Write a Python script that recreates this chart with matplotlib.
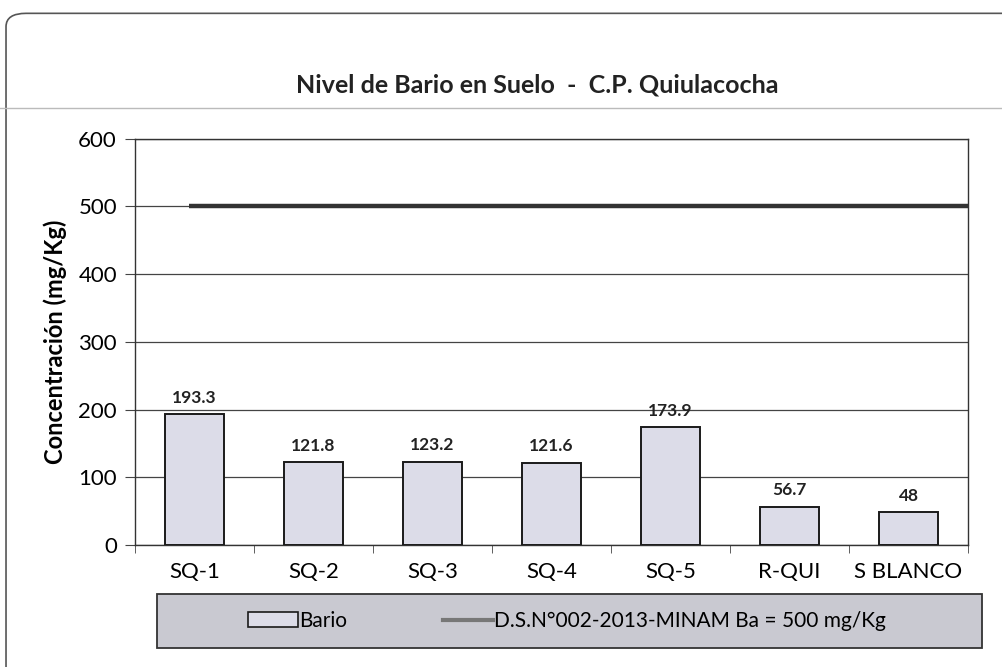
import matplotlib.pyplot as plt
from matplotlib.patches import FancyBboxPatch, Rectangle
from matplotlib.lines import Line2D

categories = ['SQ-1', 'SQ-2', 'SQ-3', 'SQ-4', 'SQ-5', 'R-QUI', 'S BLANCO']
bario = [193.3, 121.8, 123.2, 121.6, 173.9, 56.7, 48]
value_labels = ['193.3', '121.8', '123.2', '121.6', '173.9', '56.7', '48']
limite = 500
yticks = [0, 100, 200, 300, 400, 500, 600]

plt.rcParams['font.family'] = ['Lato', 'DejaVu Sans']

fig = plt.figure(figsize=(10.03, 6.67), dpi=100)

# outer frame and title separator
fig.patches.append(FancyBboxPatch((0.006, -0.05), 1.05, 1.03, boxstyle='round,pad=0,rounding_size=0.02',
                                  transform=fig.transFigure, fill=False, edgecolor='#555555', linewidth=1.2))
fig.add_artist(Line2D([0.0, 1.0], [0.838, 0.838], color='#bbbbbb', linewidth=1, transform=fig.transFigure))
fig.text(0.536, 0.873, 'Nivel de Bario en Suelo  -  C.P. Quiulacocha', ha='center', va='center',
         fontsize=18, fontweight='bold', color='#222222')

ax = fig.add_axes([0.1346, 0.183, 0.8305, 0.609])
x = list(range(len(categories)))
ax.bar(x, bario, width=0.49, color='#dcdce8', edgecolor='#1a1a1a', linewidth=1.4, zorder=3)
ax.hlines(limite, -0.05, 6.95, color='#333333', linewidth=3.2, zorder=4)

for xi, v, lab in zip(x, bario, value_labels):
    ax.text(xi, v + 12, lab, ha='center', va='bottom', fontsize=12.5, fontweight='bold', color='#222222')

ax.set_xlim(-0.5, len(categories) - 0.5)
ax.set_ylim(0, 600)
ax.set_yticks(yticks)
ax.yaxis.grid(True, color='#444444', linewidth=0.9, zorder=0)
ax.set_axisbelow(True)
ax.set_xticks(x)
ax.set_xticklabels(categories, fontsize=16)
ax.tick_params(axis='y', labelsize=16, length=7, color='#444444', pad=6)
ax.tick_params(axis='x', length=0, pad=12)
ax.set_xticks([i + 0.5 for i in range(-1, len(categories))], minor=True)
ax.tick_params(axis='x', which='minor', length=6, color='#444444')
ax.set_ylabel('Concentración (mg/Kg)', fontsize=17, fontweight='bold', labelpad=8)
for s in ax.spines.values():
    s.set_color('#333333')
    s.set_linewidth(1.0)

# legend box at the bottom
fig.patches.append(Rectangle((0.157, 0.028), 0.822, 0.082, transform=fig.transFigure,
                             facecolor='#c9c9d1', edgecolor='#333333', linewidth=1.3))
handles = [Rectangle((0, 0), 1, 1, facecolor='#dcdce8', edgecolor='#1a1a1a', linewidth=1.2),
           Line2D([0], [0], color='#777777', linewidth=3)]
fig.legend(handles, ['Bario', 'D.S.N°002-2013-MINAM Ba = 500 mg/Kg'], loc='center',
           bbox_to_anchor=(0.565, 0.069), ncol=2, frameon=False, fontsize=15,
           handlelength=2.4, handletextpad=0.05, columnspacing=4.6)

fig.savefig('out.png', dpi=100)
